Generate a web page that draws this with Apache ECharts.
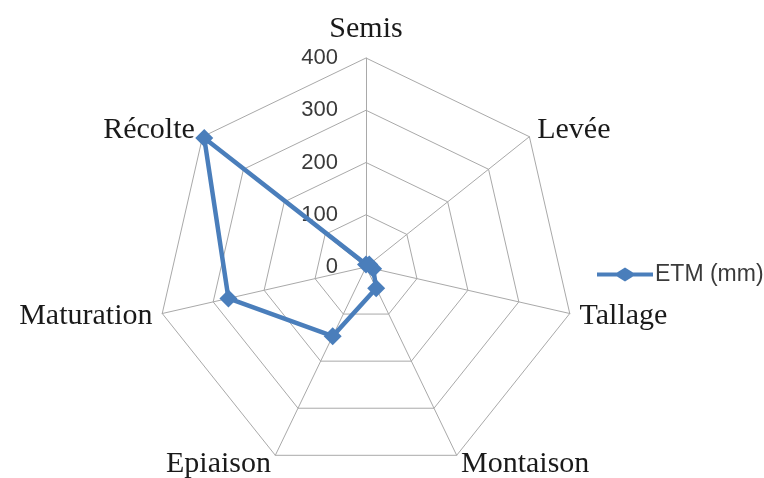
<!DOCTYPE html>
<html>
<head>
<meta charset="utf-8">
<script src="https://cdn.jsdelivr.net/npm/echarts@6/dist/echarts.min.js"></script>
<style>
  html, body { margin: 0; padding: 0; background: #ffffff; }
  #chart { width: 764px; height: 478px; }
</style>
</head>
<body>
<div id="chart"></div>
<script>
// Crop stages, listed clockwise from the top
const stages = ['Semis', 'Levée', 'Tallage', 'Montaison', 'Epiaison', 'Maturation', 'Récolte'];
// ETM (mm) per stage
const etmValues = [5, 8, 14, 45, 147, 270, 396];
const seriesName = 'ETM (mm)';
const axisMax = 400;
const tickStep = 100;

const lineColor = '#4a7ebb';
const gridColor = '#a9a9a9';

// ECharts lays radar indicators out counter-clockwise, so walk the
// stages as Semis, then the rest in reverse order to read clockwise.
const order = [0].concat(stages.map((_, i) => i).slice(1).reverse());

const indicators = order.map((i, k) => {
  const ind = { name: stages[i], min: 0, max: axisMax };
  if (k === 0) {
    // scale labels only along the top axis; its name sits above the tip
    ind.axisLabel = { show: true };
    ind.nameGap = 14;
    ind.nameTextStyle = { verticalAlign: 'bottom' };
  }
  return ind;
});

// legend key: a short line with a diamond in its middle
const legendIcon = 'path://M0,5 L20,5 L28,0 L36,5 L56,5 L56,9 L36,9 L28,14 L20,9 L0,9 Z';

const chart = echarts.init(document.getElementById('chart'), null, { renderer: 'canvas' });
chart.setOption({
  backgroundColor: '#ffffff',
  animation: false,
  legend: {
    data: [{ name: seriesName, icon: legendIcon }],
    left: 592,
    top: 258,
    itemWidth: 56,
    itemHeight: 14,
    itemStyle: { color: lineColor },
    textStyle: { fontFamily: 'Liberation Sans', fontSize: 23, color: '#3a3a3a', padding: [0, 0, 0, -3] }
  },
  radar: {
    center: [366, 267],
    radius: 209,
    startAngle: 90,
    shape: 'polygon',
    splitNumber: axisMax / tickStep,
    nameGap: 10,
    axisName: {
      fontFamily: 'Liberation Serif',
      fontSize: 30,
      color: '#1a1a1a',
      verticalAlign: 'middle'
    },
    axisLine: { lineStyle: { color: gridColor, width: 1 } },
    splitLine: { lineStyle: { color: gridColor, width: 1 } },
    splitArea: { show: false },
    axisTick: { show: false },
    axisLabel: {
      show: false,
      margin: 28,
      fontFamily: 'Liberation Sans',
      fontSize: 22,
      color: '#3a3a3a'
    },
    indicator: indicators
  },
  series: [{
    name: seriesName,
    type: 'radar',
    symbol: 'diamond',
    symbolSize: 18,
    lineStyle: { color: lineColor, width: 4.5 },
    itemStyle: { color: lineColor },
    data: [{ name: seriesName, value: order.map(i => etmValues[i]) }]
  }]
});
</script>
</body>
</html>
